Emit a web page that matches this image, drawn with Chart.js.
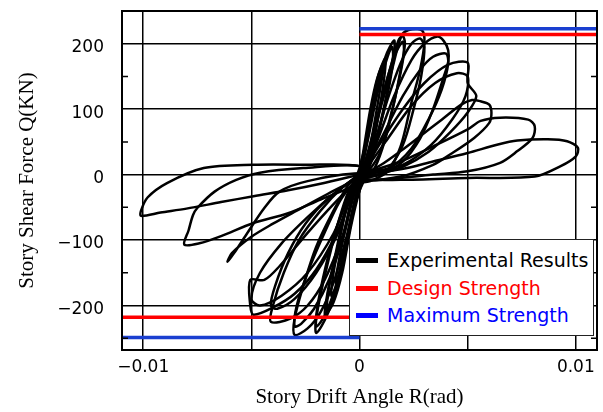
<!DOCTYPE html>
<html>
<head>
<meta charset="utf-8">
<script src="https://cdn.jsdelivr.net/npm/chart.js@4.4.1/dist/chart.umd.min.js"></script>
<style>
  html, body { margin: 0; padding: 0; background: #fff; }
  #wrap { position: relative; width: 603px; height: 412px; }
  #legend {
    position: absolute; left: 349px; top: 239px; width: 243px; height: 95px;
    border: 1.5px solid #222; background: #fff;
    font-family: "DejaVu Sans", sans-serif; font-size: 19px;
  }
  .item { position: absolute; left: 6px; height: 22px; display: flex; align-items: center; white-space: nowrap; }
  .item i { display: inline-block; width: 22px; height: 5px; margin-right: 9px; }
</style>
</head>
<body>
<div id="wrap">
  <canvas id="chart" width="603" height="412"></canvas>
  <div id="legend">
    <div class="item" style="top:9px;color:#000"><i style="background:#000"></i>Experimental Results</div>
    <div class="item" style="top:37px;color:#f00"><i style="background:#f00"></i>Design Strength</div>
    <div class="item" style="top:64px;color:#00f"><i style="background:#00f"></i>Maximum Strength</div>
  </div>
</div>
<script>
// axis ticks
const xTickValues = [-0.01, -0.005, 0, 0.005, 0.01];
const xTickLabels = ["\u22120.01", "", "0", "", "0.01"];
const yTickValues = [-200, -100, 0, 100, 200];
const yTickLabels = ["\u2212200", "\u2212100", "0", "100", "200"];
const yMinorTicks = [-250, -150, -50, 50, 150];

// strength levels (kN)
const designStrength = [214, -218];
const maxStrength = [223, -249];

// hysteresis cycles, [R (rad), Q (kN)]
const cycle1 = [[0,0],[0.0002,40],[0.0005,100],[0.0008,145],[0.0011,170],[0.00105,150],[0.0008,100],[0.0005,45],[0.0002,0],[0,-25],
  [-0.0003,-55],[-0.0006,-110],[-0.0009,-150],[-0.0011,-165],[-0.001,-140],[-0.0007,-90],[-0.0004,-40],[-0.0001,0],[0,10]];
const cycle2 = [[0,10],[0.0003,50],[0.0006,110],[0.0009,155],[0.0012,178],[0.00115,150],[0.0009,95],[0.0006,40],[0.0002,-5],[0,-20],
  [-0.0004,-70],[-0.0007,-125],[-0.001,-165],[-0.0013,-185],[-0.0012,-150],[-0.0009,-95],[-0.0005,-40],[0,0]];
const cycle3 = [[0,-10],[0.0004,60],[0.0008,130],[0.0012,180],[0.0016,205],[0.0016,185],[0.0014,140],[0.001,80],[0.0006,25],[0.0002,-10],[0,-25],
  [-0.0004,-80],[-0.0008,-150],[-0.0012,-195],[-0.0016,-215],[-0.0015,-185],[-0.0011,-120],[-0.0007,-60],[-0.0003,-15],[0,0]];
const cycle3b = [[0,-5],[0.0004,55],[0.0008,120],[0.0012,170],[0.0015,195],[0.00155,180],[0.0013,130],[0.0009,70],[0.0005,20],[0,-20],
  [-0.0004,-75],[-0.0008,-140],[-0.0012,-185],[-0.0015,-205],[-0.0014,-170],[-0.001,-110],[-0.0006,-50],[0,0]];
const cycle4 = [[0,-10],[0.0005,38],[0.001,110],[0.0014,160],[0.0018,205],[0.002,212],[0.0021,200],[0.0019,160],[0.0016,110],[0.0012,55],[0.0007,10],[0,-20],
  [-0.0005,-90],[-0.001,-165],[-0.0015,-215],[-0.002,-242],[-0.002,-215],[-0.0017,-160],[-0.0012,-95],[-0.0006,-40],[0,0]];
const cycle4b = [[0,-10],[0.0006,60],[0.0011,125],[0.0016,180],[0.002,203],[0.00205,185],[0.0018,140],[0.0014,85],[0.0009,30],[0,-18],
  [-0.0006,-100],[-0.0011,-170],[-0.0016,-215],[-0.002,-232],[-0.0019,-200],[-0.0015,-140],[-0.001,-75],[-0.0005,-25],[0,0]];
const cycle5 = [[0,-15],[0.0005,38],[0.001,105],[0.0015,160],[0.00197,214],[0.00243,222],[0.0029,220],[0.003,202],[0.0028,160],[0.0024,110],[0.0019,43],[0.0013,5],[0.0005,-10],[0,-15],
  [-0.0006,-95],[-0.0012,-165],[-0.0018,-210],[-0.0024,-235],[-0.003,-245],[-0.003,-220],[-0.0026,-170],[-0.002,-110],[-0.0012,-55],[-0.0005,-15],[0,0]];
const cycle6 = [[0,-10],[0.0007,50],[0.0013,115],[0.0019,170],[0.0024,200],[0.0028,208],[0.003,195],[0.00285,150],[0.0025,100],[0.002,45],[0.0012,5],[0,-12],
  [-0.0007,-90],[-0.0014,-160],[-0.0021,-205],[-0.0027,-228],[-0.003,-232],[-0.0029,-200],[-0.0024,-150],[-0.0017,-95],[-0.0009,-40],[0,0]];
const cycle7 = [[0,-10],[0.0008,50],[0.0016,120],[0.0024,175],[0.003,200],[0.0036,211],[0.0039,204],[0.0041,190],[0.0041,172],[0.0039,150],[0.0034,100],[0.0028,55],[0.002,20],[0.001,0],[0,-10],
  [-0.0008,-95],[-0.0016,-160],[-0.0024,-200],[-0.0032,-220],[-0.0041,-225],[-0.004,-200],[-0.0035,-150],[-0.0028,-100],[-0.0018,-55],[-0.0008,-20],[0,0]];
const cycle8 = [[0,-5],[0.001,55],[0.002,120],[0.0028,160],[0.0034,180],[0.004,185],[0.0041,170],[0.0038,130],[0.0032,85],[0.0024,40],[0.0014,10],[0,-8],
  [-0.001,-90],[-0.002,-150],[-0.003,-190],[-0.0038,-205],[-0.0041,-200],[-0.0039,-170],[-0.0033,-120],[-0.0025,-75],[-0.0014,-35],[0,0]];
const cycle9 = [[0,-5],[0.001,50],[0.002,100],[0.003,140],[0.0041,168],[0.005,171],[0.005,140],[0.0054,120],[0.005,95],[0.0042,65],[0.0032,35],[0.002,12],[0.0008,0],[0,-5],
  [-0.001,-85],[-0.002,-145],[-0.003,-182],[-0.004,-203],[-0.0049,-214],[-0.00505,-200],[-0.00505,-161],[-0.0044,-161],[-0.0037,-140],[-0.0024,-89],[-0.0012,-45],[0,-5]];
const cycle9b = [[0,-5],[0.0012,50],[0.0024,105],[0.0035,140],[0.0045,155],[0.005,150],[0.0049,120],[0.0043,85],[0.0033,45],[0.002,15],[0,-5],
  [-0.0012,-90],[-0.0024,-150],[-0.0036,-185],[-0.0046,-200],[-0.005,-190],[-0.0046,-150],[-0.0036,-105],[-0.0024,-65],[-0.0012,-30],[0,0]];
const cycle10 = [[0,-3],[0.001,15],[0.0019,36],[0.0027,56],[0.0038,84],[0.0047,107],[0.0052,114],[0.0056,112],[0.006,107],[0.0061,94],[0.006,79],[0.0053,56],[0.0042,31],[0.0034,15],[0.0019,-3],[0,-8],
  [0,2],[-0.0024,-10],[-0.0037,-26],[-0.0044,-51],[-0.0052,-90],[-0.0058,-120],[-0.0061,-133],[-0.0059,-120],[-0.005,-95],[-0.004,-75],[-0.0029,-55],[-0.0015,-30],[0,-5]];
const cycle11 = [[0,0],[0.0019,20],[0.0034,43],[0.005,69],[0.0056,82],[0.0065,87],[0.0078,84],[0.0081,74],[0.008,56],[0.0073,36],[0.0065,18],[0.005,5],[0.0034,0],[0.0019,-5],[0,-8],
  [0,13],[-0.0026,10],[-0.0046,3],[-0.0057,-8],[-0.0067,-26],[-0.0075,-51],[-0.0077,-62],[-0.0079,-85],[-0.0081,-107],[-0.0074,-105],[-0.0064,-94],[-0.0049,-74],[-0.0033,-59],[-0.0018,-38],[-0.0003,-18],[0,-10]];
const cycle12 = [[0,0],[0.0019,8],[0.0034,20],[0.005,33],[0.0064,46],[0.0073,52],[0.0087,54],[0.0096,51],[0.0101,41],[0.01,28],[0.0093,13],[0.0081,-3],[0.005,-5],[0.0019,-8],[0,-5],
  [0,13],[-0.0026,15],[-0.0049,15],[-0.0072,10],[-0.0089,-13],[-0.0098,-35],[-0.0101,-55],[-0.0101,-63],[-0.0092,-58],[-0.008,-52],[-0.0064,-42],[-0.0049,-33],[-0.0033,-24],[-0.0018,-14],[0,0]];

const cycles = [cycle1, cycle2, cycle3, cycle3b, cycle4, cycle4b, cycle5, cycle6, cycle7, cycle8, cycle9, cycle9b, cycle10, cycle11, cycle12];

const X_MIN = -0.01098, X_MAX = 0.01098;
const Y_MIN = -268, Y_MAX = 250;

const toPts = arr => arr.map(p => ({ x: p[0], y: p[1] }));

const strengthSets = [
  { data: [{ x: 0, y: maxStrength[0] }, { x: X_MAX, y: maxStrength[0] }], borderColor: "#1a3fd0" },
  { data: [{ x: X_MIN, y: maxStrength[1] }, { x: 0, y: maxStrength[1] }], borderColor: "#1a3fd0" },
  { data: [{ x: 0, y: designStrength[0] }, { x: X_MAX, y: designStrength[0] }], borderColor: "#ff0000" },
  { data: [{ x: X_MIN, y: designStrength[1] }, { x: 0, y: designStrength[1] }], borderColor: "#ff0000" }
].map(d => ({ ...d, showLine: true, borderWidth: 3.5, pointRadius: 0, tension: 0 }));

const loopSets = cycles.map(c => ({
  data: toPts(c), showLine: true, borderColor: "#000", borderWidth: 2.5,
  pointRadius: 0, tension: 0.3
}));

const framePlugin = {
  id: "frame",
  afterDatasetsDraw(chart) {
    const { ctx, chartArea: a, scales } = chart;
    ctx.save();
    ctx.strokeStyle = "#000";
    ctx.lineWidth = 1.5;
    for (const v of yMinorTicks) {
      const y = scales.y.getPixelForValue(v);
      ctx.beginPath();
      ctx.moveTo(a.left, y); ctx.lineTo(a.left + 6, y);
      ctx.moveTo(a.right, y); ctx.lineTo(a.right - 6, y);
      ctx.stroke();
    }
    ctx.lineWidth = 2;
    ctx.strokeRect(a.left, a.top, a.right - a.left, a.bottom - a.top);
    ctx.restore();
  }
};

const tickFont = { family: "DejaVu Sans", size: 17 };
const titleFont = { family: "Liberation Serif", size: 21 };

new Chart(document.getElementById("chart"), {
  type: "scatter",
  data: { datasets: [...strengthSets, ...loopSets] },
  options: {
    responsive: false, animation: false, devicePixelRatio: 1,
    layout: { padding: { top: 11, right: 6, left: 0, bottom: 0 } },
    plugins: { legend: { display: false }, tooltip: { enabled: false } },
    scales: {
      x: {
        type: "linear", min: X_MIN, max: X_MAX,
        afterBuildTicks: s => { s.ticks = xTickValues.map(v => ({ value: v })); },
        afterFit: s => { s.height = 62; s.paddingLeft = 0; s.paddingRight = 0; },
        ticks: {
          autoSkip: false, maxRotation: 0, padding: 7, color: "#000", font: tickFont,
          callback: v => xTickLabels[xTickValues.findIndex(t => Math.abs(t - v) < 1e-9)]
        },
        grid: { color: "#000", lineWidth: 1.5, drawTicks: false },
        border: { display: true, color: "#000", width: 2 },
        title: { display: true, text: "Story Drift Angle R(rad)", color: "#000", font: titleFont, padding: { top: 0, bottom: 2 } }
      },
      y: {
        type: "linear", min: Y_MIN, max: Y_MAX,
        afterBuildTicks: s => { s.ticks = yTickValues.map(v => ({ value: v })); },
        afterFit: s => { s.width = 122; s.paddingTop = 0; s.paddingBottom = 0; },
        ticks: {
          autoSkip: false, padding: 18, labelOffset: 4, color: "#000", font: tickFont,
          callback: v => yTickLabels[yTickValues.indexOf(v)]
        },
        grid: { color: "#000", lineWidth: 1.5, drawTicks: false },
        border: { display: true, color: "#000", width: 2 },
        title: { display: true, text: "Story Shear Force Q(KN)", color: "#000", font: titleFont, padding: { top: 15, bottom: 0 } }
      }
    }
  },
  plugins: [framePlugin]
});
</script>
</body>
</html>
